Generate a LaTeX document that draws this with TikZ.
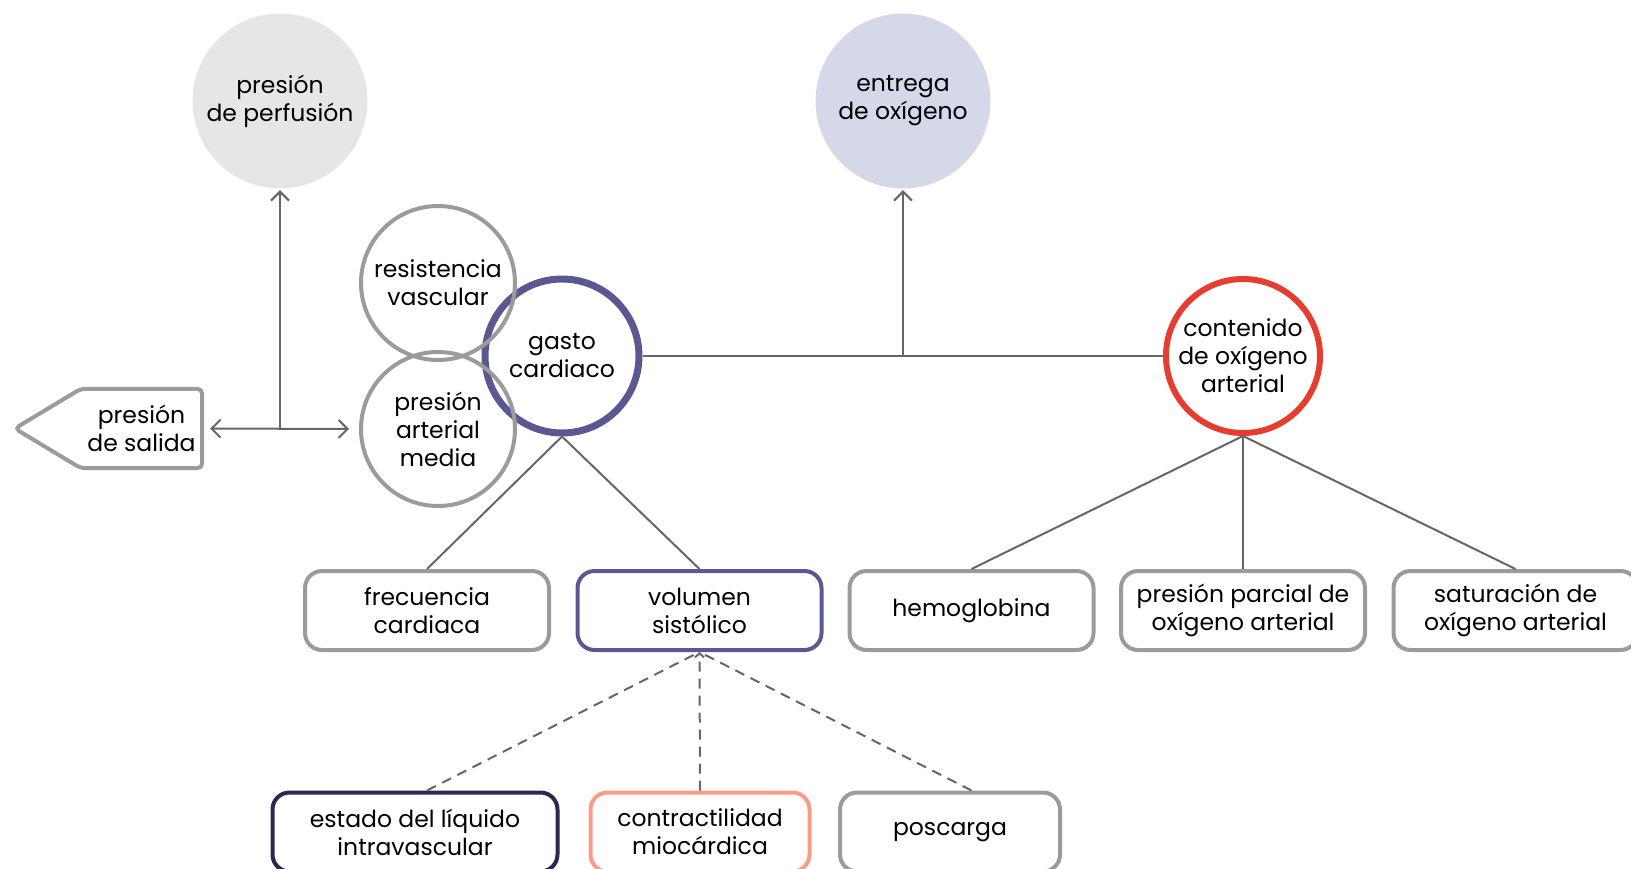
\documentclass[tikz,border=0pt]{standalone}
\usepackage{fontspec}
\setmainfont{Poppins}
\usetikzlibrary{arrows.meta}
\definecolor{linegray}{HTML}{666666}
\definecolor{boxgray}{HTML}{9B9B9B}
\definecolor{navy}{HTML}{5A5891}
\definecolor{darknavy}{HTML}{2A2850}
\definecolor{salmon}{HTML}{F89C88}
\definecolor{alertred}{HTML}{E53D30}
\definecolor{softgray}{HTML}{E6E6E6}
\definecolor{softblue}{HTML}{D5D8E8}

\begin{document}
\begin{tikzpicture}[x=1pt,y=-1pt]

\tikzstyle{every node}=[font=\fontsize{23.5}{28}\selectfont, align=center, text=black]
\tikzstyle{goal}=[circle, minimum size=175pt, inner sep=0pt]
\tikzstyle{factor}=[circle, draw=boxgray, line width=4pt, minimum size=154pt, inner sep=0pt]
\tikzstyle{box}=[rectangle, rounded corners=17pt, draw=boxgray, line width=4pt,
	minimum width=244pt, minimum height=79pt, inner sep=0pt]
\tikzstyle{link}=[draw=linegray, line width=2pt]
\tikzstyle{arr}=[link, -{Straight Barb[length=9pt,width=18pt]}]

\useasboundingbox (0,0) rectangle (1631,868);

% top goals
\node[goal, fill=softgray] (perfusion) at (280,101) {presión\\de perfusión};
\node[goal, fill=softblue] (entrega) at (903,101) {entrega\\de oxígeno};

% circles
\node[factor, draw=navy, line width=7pt] (gasto) at (562,356) {gasto\\cardiaco};
\node[factor] (resistencia) at (438,283) {resistencia\\vascular};
\node[factor] (pam) at (438,429) {presión\\arterial\\media};
\node[factor, draw=alertred, line width=6pt] (contenido) at (1243,356)
	{contenido\\de oxígeno\\arterial};

\node[minimum width=121pt, minimum height=79pt, inner sep=0pt] (salida) at (141.5,428.5)
	{presión\\de salida};
\draw[boxgray, line width=4pt, rounded corners=5pt]
	(salida.east) -- (salida.south east) -- (salida.south west)
	-- ([xshift=-66pt]salida.west) -- (salida.north west)
	-- (salida.north east) -- cycle;

% first row
\node[box] (frecuencia) at (427,610.5) {frecuencia\\cardiaca};
\node[box, draw=navy] (volumen) at (699.5,610.5) {volumen\\sistólico};
\node[box] (hemoglobina) at (971.5,610.5) {hemoglobina};
\node[box] (parcial) at (1243,610.5) {presión parcial de\\oxígeno arterial};
\node[box] (saturacion) at (1515.5,610.5) {saturación de\\oxígeno arterial};

% second row
\node[box, draw=darknavy, minimum width=285pt] (estado) at (415,832)
	{estado del líquido\\intravascular};
\node[box, draw=salmon, minimum width=219pt] (contractilidad) at (700,832)
	{contractilidad\\miocárdica};
\node[box, minimum width=220pt] (poscarga) at (950,832) {poscarga};

% connectors
\draw[arr, {Straight Barb[length=9pt,width=18pt]}-{Straight Barb[length=9pt,width=18pt]},
	shorten <=8pt, shorten >=10pt] (salida.east) -- (pam.west);
\draw[arr, shorten >=1.5pt] (perfusion |- salida.east) -- (perfusion.south);
\draw[link] (gasto.east) -- (contenido.west);
\draw[arr, shorten >=1.5pt] (entrega |- gasto.east) -- (entrega.south);

\draw[link] (gasto.south) -- (frecuencia.north);
\draw[link] (gasto.south) -- (volumen.north);
\draw[link] (contenido.south) -- (hemoglobina.north);
\draw[link] (contenido.south) -- (parcial.north);
\draw[link] (contenido.south) -- (saturacion.north);

\draw[link, dash pattern=on 10pt off 7pt] (frecuencia |- estado.north) -- (volumen.south);
\draw[link, dash pattern=on 10pt off 7pt] (hemoglobina |- poscarga.north) -- (volumen.south);
\draw[link, dash pattern=on 10pt off 7pt, -{Straight Barb[length=4pt,width=9pt]}]
	(contractilidad.north) -- (volumen.south);

\end{tikzpicture}
\end{document}
